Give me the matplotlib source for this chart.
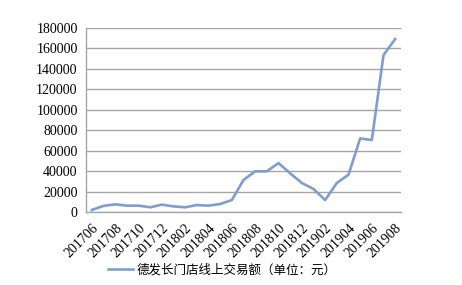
import numpy as np
import matplotlib
matplotlib.use("Agg")
import matplotlib.pyplot as plt

# monthly data, 201706 .. 201908
months = ["201706", "201707", "201708", "201709", "201710", "201711", "201712",
          "201801", "201802", "201803", "201804", "201805", "201806", "201807",
          "201808", "201809", "201810", "201811", "201812", "201901", "201902",
          "201903", "201904", "201905", "201906", "201907", "201908"]
sales = [2000, 6000, 7500, 6200, 6200, 4600, 7200,
         5500, 4600, 6800, 6200, 7800, 11700, 31300,
         39800, 39800, 47900, 37800, 28400, 22500, 11700,
         28400, 36500, 72000, 70400, 153500, 169200]
series_name = "德发长门店线上交易额（单位：元）"
yticks = np.arange(0, 180001, 20000)

fig = plt.figure(figsize=(4.62, 2.85), dpi=100)
ax = fig.add_axes([86/462, 1-212/285, (401-86)/462, (212-28)/285])

x = np.arange(len(months))
ax.plot(x, sales, color="#7f9dcd", lw=1.9, label=series_name)

ax.set_xlim(-0.5, len(months) - 0.5)
ax.set_ylim(0, 180000)
ax.set_yticks(yticks)
ax.set_yticklabels([str(v) for v in yticks], family="Liberation Serif", fontsize=10)
ax.set_xticks(x[::2])
ax.set_xticklabels(months[::2], family="Liberation Serif", fontsize=10,
                   rotation=45, ha="right", rotation_mode="anchor")
ax.tick_params(length=0, pad=6)
ax.tick_params(axis="x", pad=7)

ax.grid(axis="y", color="#a6a6a6", lw=1.0)
ax.set_axisbelow(True)
for s in ["top", "right"]:
    ax.spines[s].set_visible(False)
for s in ["left", "bottom"]:
    ax.spines[s].set_color("#a6a6a6")
    ax.spines[s].set_linewidth(1.0)

fig.legend(loc="center", bbox_to_anchor=(222/462, 1-270/285), frameon=False,
           prop={"family": ["Noto Sans CJK SC", "DejaVu Sans"], "size": 9},
           handlelength=2.0, handletextpad=0.3)

fig.savefig("out.png", dpi=100)
